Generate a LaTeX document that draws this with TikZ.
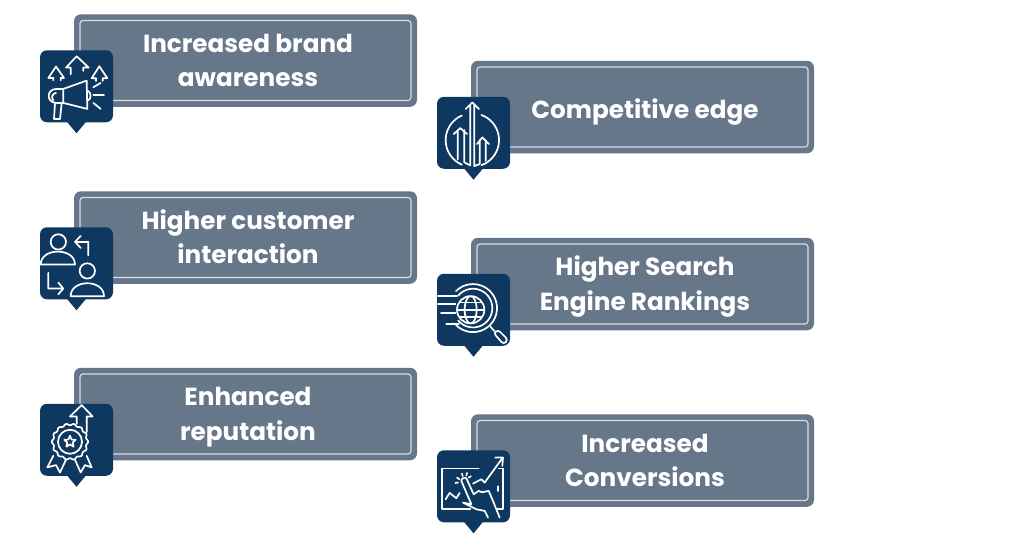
\documentclass[tikz,border=0pt]{standalone}
\usepackage{fontspec}
\setmainfont{Poppins}
\usetikzlibrary{calc}
\definecolor{slatecard}{RGB}{103,119,138}
\definecolor{cardline}{RGB}{214,221,229}
\definecolor{navybadge}{RGB}{15,56,96}
\newcommand{\widthcard}{343pt}
\newcommand{\heightcard}{92.5pt}
\tikzset{
    cardbase/.style={rectangle, inner sep=0pt, outer sep=0pt},
    card/.style={cardbase, fill=slatecard, rounded corners=7pt, minimum width=\widthcard, minimum height=\heightcard},
    cardframe/.style={cardbase, draw=cardline, line width=1.2pt, rounded corners=3pt, minimum width=331pt, minimum height=80pt},
    cardtext/.style={cardbase, text=white, align=center, font=\fontsize{24.7}{34.5}\selectfont\bfseries},
    badge/.style={cardbase, fill=navybadge, rounded corners=7pt, minimum width=73pt, minimum height=72pt, anchor=north west},
    glyph/.style={draw=white, line width=1.7pt, line cap=round, line join=round},
    icon/.style={shift={(#1.north west)}, scale=0.3333}
}
% one card: text drop, name, centre, text
\newcommand{\infocard}[4][2]{
    \node[card] (c#2) at (#3) {};
    \node[cardframe] (f#2) at (c#2.center) {};
    \node[cardtext] (t#2) at ($(c#2.center)+(2.5,#1)$) {#4};
    \node[badge] (b#2) at ($(c#2.north west)+(-34,36)$) {};
    \fill[navybadge] ($(b#2.south)+(-10,-1)$) -- ($(b#2.south)+(10,-1)$) -- ($(b#2.south)+(0,11)$) -- cycle;
}
\begin{document}
\begin{tikzpicture}[x=1pt, y=-1pt]
    \useasboundingbox (0,0) rectangle (1024,544);
    \infocard{1}{245.5,60.5}{\strut Increased brand\\\strut awareness}
    \infocard{2}{245.5,237.5}{\strut Higher customer\\\strut interaction}
    \infocard{3}{245.5,414}{\strut Enhanced\\\strut reputation}
    \infocard[4.5]{4}{642.5,107}{\strut Competitive edge}
    \infocard{5}{642.5,284}{\strut Higher Search\\\strut Engine Rankings}
    \infocard{6}{642.5,460.5}{\strut Increased\\\strut Conversions}
    % megaphone
    \begin{scope}[icon=b1]
        \draw[glyph] (40,90) -- (40,83) -- (25,83) -- (48,49) -- (72,83) -- (62,83) -- (62,90);
        \draw[glyph] (92,72) -- (92,52) -- (78,52) -- (110,18) -- (146,52) -- (130,52) -- (130,62);
        \draw[glyph] (168,92) -- (168,84) -- (155,84) -- (178,48) -- (202,84) -- (188,84) -- (188,92);
        \draw[glyph] (70,116) -- (140,91) -- (142,176) -- (70,158) -- cycle;
        \draw[glyph] (70,116) -- (50,116) .. controls (18,116) and (18,158) .. (50,158) -- (70,158);
        \draw[glyph] (142,121) .. controls (155,125) and (155,150) .. (142,151);
        \draw[glyph] (45,158) -- (42,206) -- (60,206) -- (65,160);
        \draw[glyph] (48,128) .. controls (34,130) and (34,145) .. (40,150);
        \draw[glyph] (160,111) -- (182,98) (160,134) -- (192,134) (160,158) -- (182,176);
    \end{scope}
    % two people
    \begin{scope}[icon=b2]
        \draw[glyph] (55,44) circle[radius=23];
        \draw[glyph] (2,112) .. controls (2,60) and (105,60) .. (105,112) -- cycle;
        \draw[glyph] (142,131) circle[radius=23];
        \draw[glyph] (92,207) .. controls (92,155) and (192,155) .. (192,207) -- cycle;
        \draw[glyph] (145,84) -- (145,44) -- (105,44) (122,26) -- (105,44) -- (122,62);
        \draw[glyph] (25,137) -- (25,184) -- (70,184) (55,166) -- (70,184) -- (55,201);
    \end{scope}
    % rosette
    \begin{scope}[icon=b3]
        \draw[glyph] plot[domain=0:360, samples=113, smooth] ({90+(52+2.5*cos(14*\x))*cos(\x)}, {114+(52+2.5*cos(14*\x))*sin(\x)});
        \draw[glyph] (90,114) circle[radius=36];
        \draw[glyph] (90,96) -- (95,107.5) -- (107,108) -- (98,116.5) -- (101,129) -- (90,122) -- (79,129) -- (82,116.5) -- (73,108) -- (85,107.5) -- cycle;
        \draw[glyph] (40,156) -- (22,191) -- (48,184) -- (60,206) -- (78,168);
        \draw[glyph] (105,168) -- (122,206) -- (135,184) -- (155,191) -- (140,156);
        \draw[glyph] (110,60) -- (110,38) -- (90,38) -- (125,4) -- (158,38) -- (140,38) -- (140,85);
    \end{scope}
    % three arrows
    \begin{scope}[icon=b4]
        \draw[glyph] plot[domain=113:247, samples=40] ({106+80*cos(\x)}, {130+80*sin(\x)});
        \draw[glyph] plot[domain=-70:70, samples=40] ({106+80*cos(\x)}, {130+80*sin(\x)});
        \draw[glyph] (86,37) -- (106,17) -- (126,37) (100,24) -- (100,206) -- (82,197) -- (82,100) (112,24) -- (112,208) -- (128,202) -- (128,130);
        \draw[glyph] (50,112) -- (70,94) -- (90,112) (62,100) -- (62,188);
        \draw[glyph] (120,142) -- (136,122) -- (156,142) (146,130) -- (146,192);
    \end{scope}
    % globe and lens
    \begin{scope}[icon=b5]
        \draw[glyph] plot[domain=-135:135, samples=50] ({108+72*cos(\x)}, {103+72*sin(\x)});
        \draw[glyph] plot[domain=-140:140, samples=50] ({108+58*cos(\x)}, {103+58*sin(\x)});
        \draw[glyph] (101,108) circle[radius=41] (101,108) ellipse[x radius=18, y radius=41];
        \draw[glyph] (60,108) -- (142,108) (68,86) -- (134,86) (68,130) -- (134,130);
        \draw[glyph] (3,66) -- (60,66) (3,90) -- (55,90) (12,118) -- (55,118) (28,150) -- (65,150);
        \draw[glyph] (160,158) -- (172,172);
        \draw[glyph, rounded corners=3pt] (170,178) -- (183,168) -- (213,198) -- (200,212) -- cycle;
    \end{scope}
    % tablet and hand
    \begin{scope}[icon=b6]
        \draw[glyph] (125,55) -- (16,55) -- (16,177) -- (100,177) (185,55) -- (198,55) -- (198,177) -- (180,177) (183,108) -- (183,122);
        \draw[glyph] (26,147) -- (38,128) -- (58,144) -- (68,128);
        \draw[glyph] (108,100) -- (133,87) -- (143,97) -- (195,25) (175,22) -- (198,22) -- (196,47);
        \draw[glyph] (73,92) .. controls (72,84) and (86,80) .. (88,84) -- (110,132) -- (125,122) -- (135,126) -- (155,122) -- (168,152) -- (188,202);
        \draw[glyph] (73,92) -- (103,162) -- (78,157) -- (118,177) -- (143,182) -- (153,202);
        \draw[glyph] (60,82) -- (67,87) (75,70) -- (77,78) (90,68) -- (88,76) (102,78) -- (95,82) (55,98) -- (63,97);
    \end{scope}
\end{tikzpicture}
\end{document}
